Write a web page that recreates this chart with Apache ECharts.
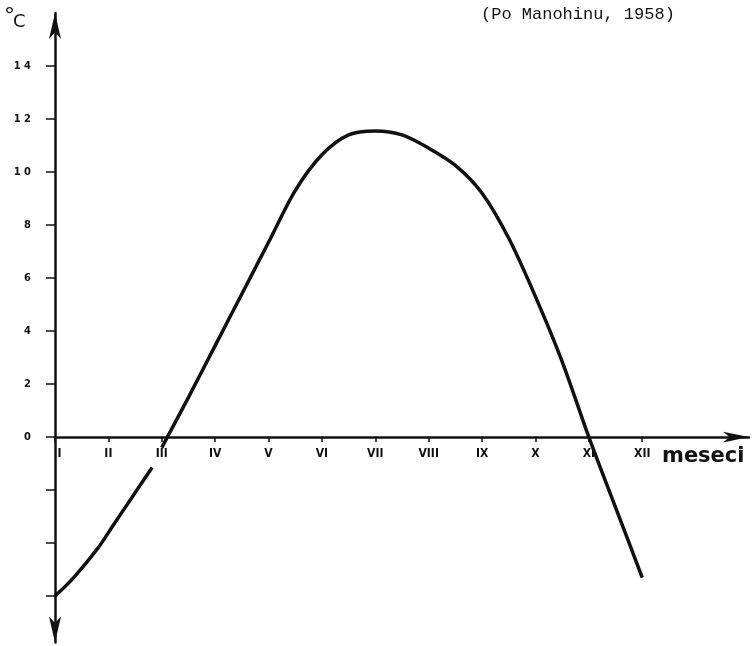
<!DOCTYPE html>
<html>
<head>
<meta charset="utf-8">
<script src="https://cdn.jsdelivr.net/npm/echarts@6/dist/echarts.min.js"></script>
<style>
html,body{margin:0;padding:0;background:#fff;}
#chart{width:755px;height:646px;}
</style>
</head>
<body>
<div id="chart"></div>
<script>
// Month positions (1 = I ... 12 = XII) and Roman labels
var monthValues = [1,2,3,4,5,6,7,8,9,10,11,12];
var monthLabels = ['I','II','III','IV','V','VI','VII','VIII','IX','X','XI','XII'];
// Y ticks and labels (°C)
var yTickValues = [-6,-4,-2,0,2,4,6,8,10,12,14];
var yLabelValues = [0,2,4,6,8,10,12,14];
// Curve, first piece (Jan to just before Mar)
var monthsA = [1, 1.35, 1.8, 2.1, 2.45, 2.82];
var tempsA  = [-6.0, -5.3, -4.2, -3.3, -2.25, -1.15];
// Curve, second piece (Mar to Dec)
var monthsB = [3.0, 3.5, 4.0, 4.5, 5.0, 5.5, 6.0, 6.5, 7.0, 7.5, 8.0, 8.5, 9.0, 9.5, 10.0, 10.5, 11.0, 11.5, 12.0];
var tempsB  = [-0.4, 1.5, 3.45, 5.4, 7.35, 9.3, 10.65, 11.4, 11.55, 11.4, 10.9, 10.25, 9.2, 7.5, 5.3, 2.85, 0, -2.65, -5.3];
var sourceText = '(Po Manohinu, 1958)';
var xName = 'meseci';
var yUnit = '°C';
var yMin = -7.75, yMax = 16;

function pairs(xs, ys){ return xs.map(function(x,i){ return [x, ys[i]]; }); }

var chart = echarts.init(document.getElementById('chart'), null, {renderer:'canvas'});
var ink = '#111';
chart.setOption({
  backgroundColor: '#fff',
  animation: false,
  grid: {left: 55, right: 6, top: 13, bottom: 3.5, containLabel: false, outerBoundsMode: 'none'},
  xAxis: {
    type: 'value', min: 1, max: 14, offset: 0,
    axisLine: {show: true, onZero: false, symbol: ['none','arrow'], symbolSize: [8, 26],
      lineStyle: {color: ink, width: 2.5}},
    axisTick: {show: true, length: 5, customValues: monthValues, lineStyle: {color: ink, width: 1.5}},
    axisLabel: {show: true, customValues: monthValues, margin: 11, color: ink,
      fontFamily: 'DejaVu Sans Condensed', fontWeight: 'bold', fontSize: 12,
      rich: {first: {padding: [0, 0, 0, 9], fontFamily: 'DejaVu Sans Condensed', fontWeight: 'bold', fontSize: 12, color: ink}},
      formatter: function(v){
        var i = Math.round(v) - 1;
        if (i === 0) return '{first|' + monthLabels[0] + '}';
        return monthLabels[i] || '';
      }},
    splitLine: {show: false}
  },
  yAxis: {
    type: 'value', min: yMin, max: yMax,
    axisLine: {show: true, onZero: false, symbol: ['arrow','arrow'], symbolSize: [9, 26],
      lineStyle: {color: ink, width: 2.5}},
    axisTick: {show: true, length: 9, customValues: yTickValues, lineStyle: {color: ink, width: 1.5}},
    axisLabel: {show: true, customValues: yLabelValues, margin: 24, color: ink,
      fontFamily: 'DejaVu Sans Condensed', fontWeight: 'bold', fontSize: 11,
      formatter: function(v){ return String(v).split('').join(' '); }},
    splitLine: {show: false}
  },
  series: [
    {type: 'line', data: pairs(monthsA, tempsA), smooth: 0.3, showSymbol: false,
      lineStyle: {color: ink, width: 3.5}},
    {type: 'line', data: pairs(monthsB, tempsB), smooth: 0.3, showSymbol: false,
      lineStyle: {color: ink, width: 3.5}}
  ],
  graphic: [
    {type: 'text', left: 4, top: 6, style: {text: yUnit.charAt(0), font: '22px "DejaVu Sans"', fill: ink}},
    {type: 'text', left: 13, top: 13, style: {text: yUnit.charAt(1), font: '18px "DejaVu Sans"', fill: ink}},
    {type: 'text', left: 481, top: 6, style: {text: sourceText, font: '17px "Liberation Mono"', fill: ink}},
    {type: 'text', left: 662, top: 446, style: {text: xName, font: 'bold 21px "DejaVu Sans"', fill: ink}}
  ]
});
// Move the x axis (line, ticks, labels) up to y = 0 using the y scale
var pZero = chart.convertToPixel({yAxisIndex: 0}, 0);
var pBottom = chart.convertToPixel({yAxisIndex: 0}, yMin);
chart.setOption({xAxis: {offset: -(pBottom - pZero)}});
</script>
</body>
</html>
